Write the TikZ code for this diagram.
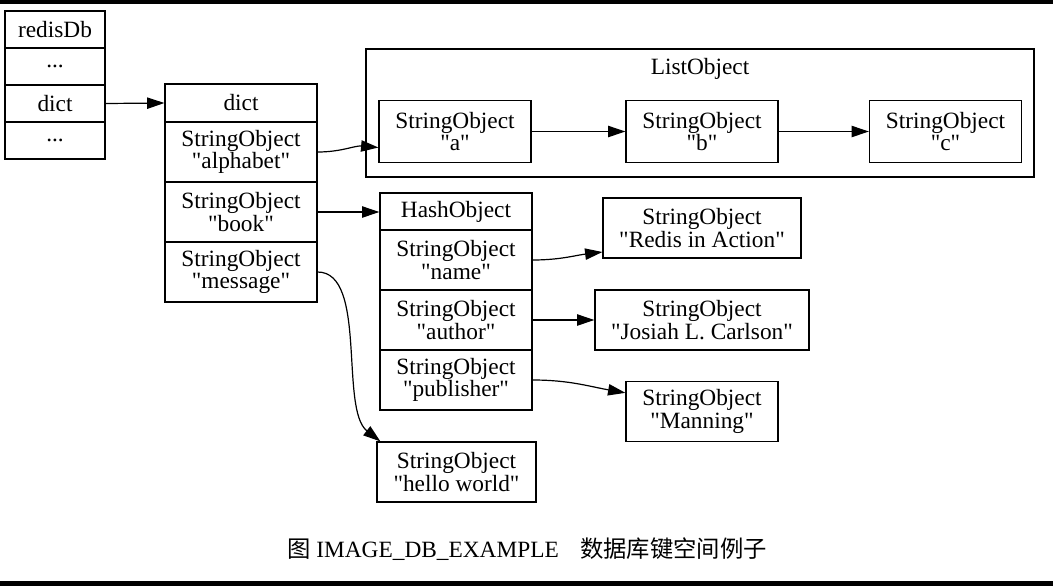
\documentclass[tikz,border=0pt]{standalone}
\usepackage{fontspec}
\setmainfont{Liberation Serif}[Ligatures=TeXOff]
\newfontfamily\cjk{Noto Sans CJK SC}
\usepackage{tikz}
\usetikzlibrary{arrows.meta,positioning}

\tikzset{
  cell/.style={draw, line width=0.9pt, inner sep=0pt, align=center,
               font=\fontsize{17.5}{17}\selectfont},
  arr/.style={-{Triangle[length=13pt,width=8.5pt]}, line width=0.9pt},
}

\begin{document}
\begin{tikzpicture}[x=0.75pt,y=-0.75pt]
  \useasboundingbox (0,0) rectangle (1053,586);
  % page rules
  \fill (0,0) rectangle (1053,4);
  \fill (0,581) rectangle (1053,586);

  % redisDb
  \node[cell, minimum width=75pt, minimum height=27.75pt] (db)    at (55,29.5)  {redisDb};
  \node[cell, minimum width=75pt, minimum height=27.75pt] (dbdotsa) at (55,66.5) {...};
  \node[cell, minimum width=75pt, minimum height=27.75pt] (dbdict) at (55,103.5) {dict};
  \node[cell, minimum width=75pt, minimum height=27.75pt] (dbdotsb) at (55,140.5) {...};

  % dict
  \node[cell, minimum width=114pt, minimum height=28.5pt] (dict)     at (241,103) {dict};
  \node[cell, minimum width=114pt, minimum height=45pt]   (alphabet) at (241,152) {StringObject\\"alphabet"};
  \node[cell, minimum width=114pt, minimum height=45pt]   (book)     at (241,212) {StringObject\\"book"};
  \node[cell, minimum width=114pt, minimum height=45pt]   (message)  at (241,272) {StringObject\\"message"};

  % ListObject
  \node[cell, minimum width=501pt, minimum height=96pt] (list) at (700,113) {};
  \node[cell, draw=none] (listtitle) at (700,69) {ListObject};
  \node[cell, minimum width=114pt, minimum height=46.5pt] (sa) at (455,131.5) {StringObject\\"a"};
  \node[cell, minimum width=114pt, minimum height=46.5pt] (sb) at (702,131.5) {StringObject\\"b"};
  \node[cell, minimum width=114pt, minimum height=46.5pt] (sc) at (945.5,131.5) {StringObject\\"c"};

  % HashObject
  \node[cell, minimum width=114pt, minimum height=27.75pt] (hash)       at (456,211.5) {HashObject};
  \node[cell, minimum width=114pt, minimum height=45pt]    (hname)      at (456,260) {StringObject\\"name"};
  \node[cell, minimum width=114pt, minimum height=45pt]    (hauthor)    at (456,320) {StringObject\\"author"};
  \node[cell, minimum width=114pt, minimum height=45pt]    (hpublisher) at (456,380) {StringObject\\"publisher"};

  % values
  \node[cell, minimum width=148.5pt, minimum height=45pt] (rname)      at (702,228)   {StringObject\\"Redis in Action"};
  \node[cell, minimum width=160.5pt, minimum height=45pt] (rauthor)    at (702,320)   {StringObject\\"Josiah L. Carlson"};
  \node[cell, minimum width=114pt,   minimum height=45pt] (rpublisher) at (702,411.5) {StringObject\\"Manning"};
  \node[cell, minimum width=119.25pt, minimum height=45pt] (hello)     at (456.5,472) {StringObject\\"hello world"};

  % links
  \draw[arr] (dbdict.east) -- (dict.west);
  \draw[arr] (alphabet.east) to[out=0,in=175] ([yshift=-12pt]sa.west);
  \draw[arr] (sa.east) -- (sb.west);
  \draw[arr] (sb.east) -- (sc.west);
  \draw[arr] (book.east) -- (book.east -| hash.west);
  \draw[arr] (message.east) .. controls +(50,0) and +(-41,-32) .. ([xshift=3pt]hello.north west);
  \draw[arr] (hname.east) to[out=0,in=187] ([yshift=-18pt]rname.west);
  \draw[arr] (hauthor.east) -- (rauthor.west);
  \draw[arr] (hpublisher.east) to[out=0,in=170] ([yshift=14pt]rpublisher.west);

  % caption
  \node[font=\fontsize{17.5}{17}\selectfont] (caption) at (527,549)
    {{\cjk 图} IMAGE\_DB\_EXAMPLE\hspace{16pt}{\cjk 数据库键空间例子}};
\end{tikzpicture}
\end{document}
